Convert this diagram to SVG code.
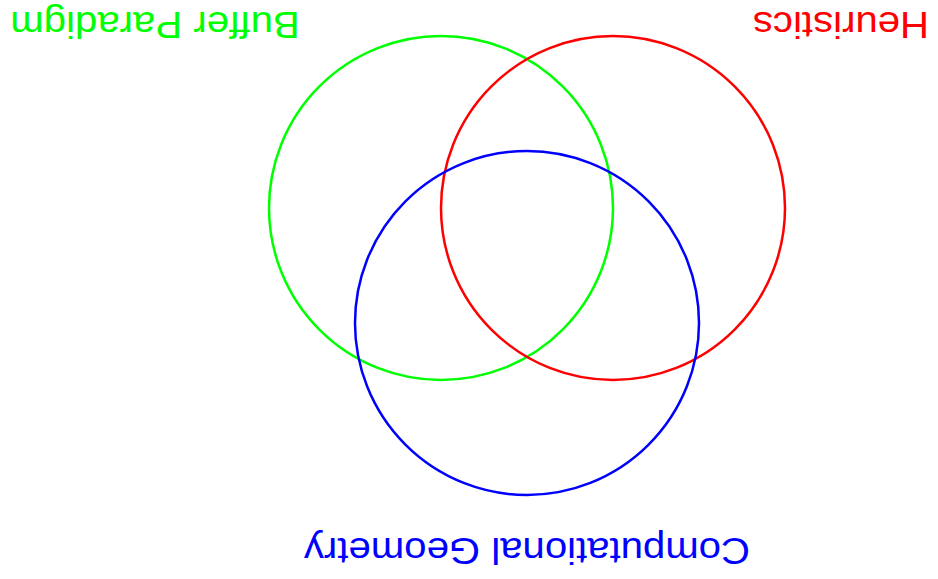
<svg xmlns="http://www.w3.org/2000/svg" width="938" height="579" viewBox="0 0 938 579">
<style>
.c{fill:none;stroke-width:2.5}
.t{font-family:"Liberation Sans",Arial,sans-serif;font-size:36.5px;text-anchor:middle}
</style>
<rect width="938" height="579" fill="#fff"/>
<g id="connectors"/>
<g id="buffer"><circle class="c" cx="441" cy="208" r="172" stroke="#00ff00"/><text class="t" fill="#00ff00" transform="translate(155,11.5) rotate(180) scale(1.1,1)">Buffer Paradigm</text></g>
<g id="heuristics"><circle class="c" cx="613" cy="208" r="172" stroke="#ff0000"/><text class="t" fill="#ff0000" transform="translate(841,11.5) rotate(180) scale(1.1,1)">Heuristics</text></g>
<g id="geometry"><circle class="c" cx="527" cy="323" r="172" stroke="#0000ff"/><text class="t" fill="#0000ff" transform="translate(527,538) rotate(180) scale(1.1,1)">Computational Geometry</text></g>
</svg>
